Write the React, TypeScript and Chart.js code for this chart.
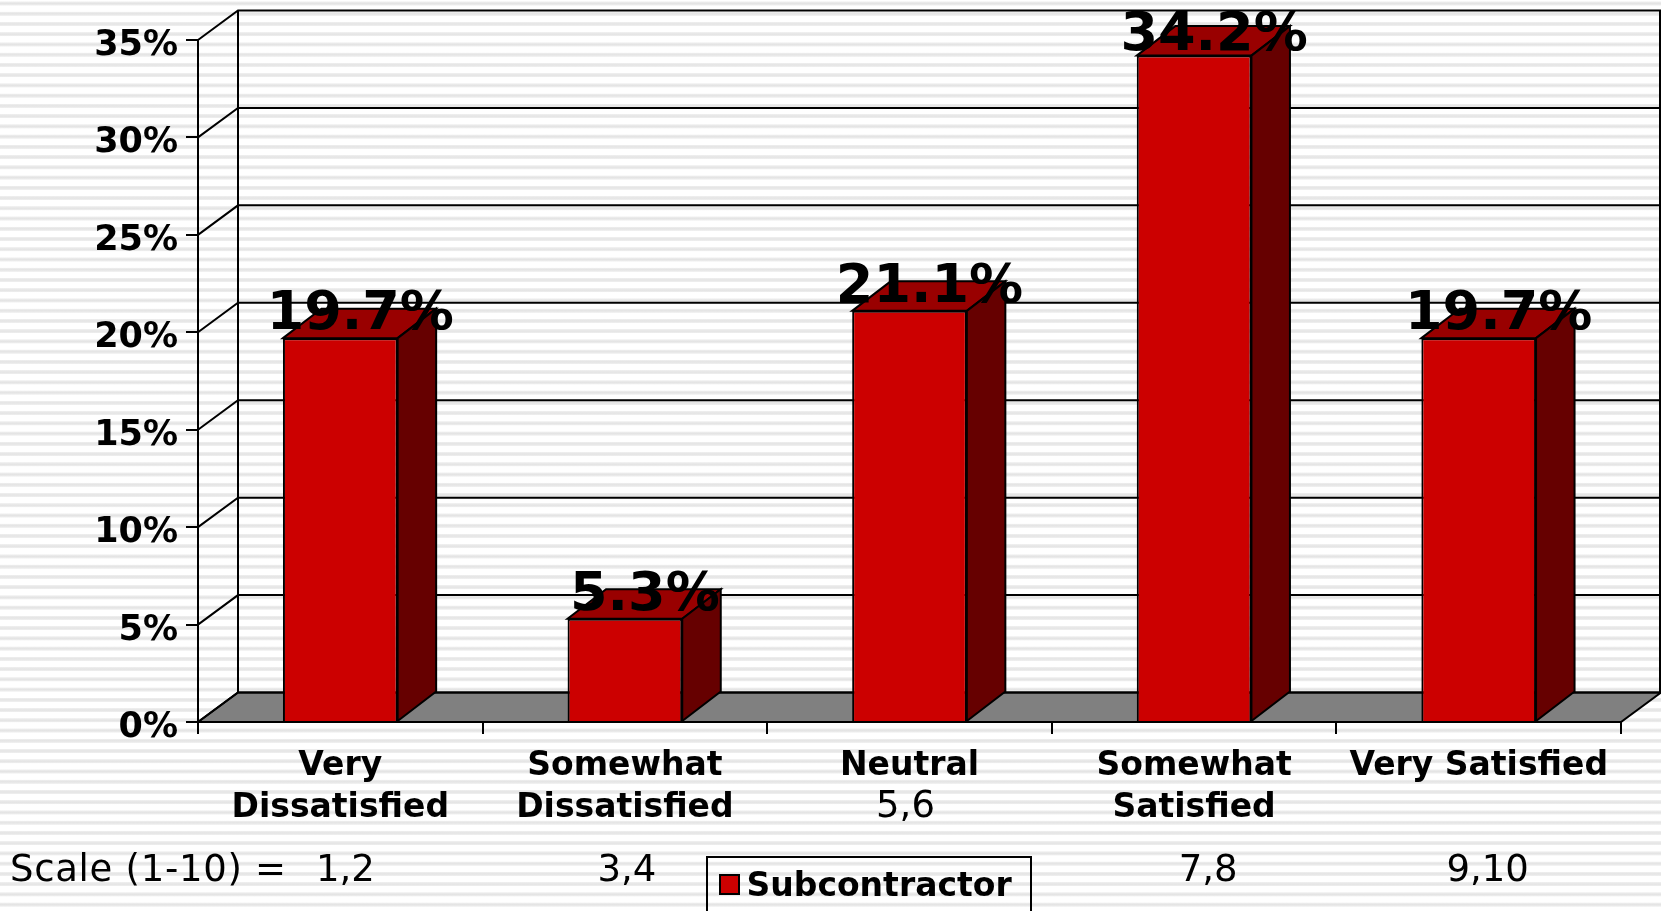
import React, { useEffect, useRef } from "react";
import { Chart, registerables } from "chart.js";

Chart.register(...registerables);

const categories = [["Very", "Dissatisfied"], ["Somewhat", "Dissatisfied"], ["Neutral", ""], ["Somewhat", "Satisfied"], ["Very Satisfied", ""]];
const subcontractor = [19.7, 5.3, 21.1, 34.2, 19.7];
const seriesName = "Subcontractor";
const scaleCodes = ["1,2", "3,4", "5,6", "7,8", "9,10"];
const scalePrefix = "Scale (1-10) =";

const FONT = '"DejaVu Sans", Verdana, sans-serif';
const DEPTH_X = 40;
const DEPTH_Y = 29.5;
const BAR_DEPTH_X = 38.5;
const BAR_COLOR = "#cc0000";

const scene = {
  id: "scene",
  beforeDatasetsDraw(chart: any) {
    const { ctx, chartArea: a, scales } = chart;
    const y = scales.y;
    const b = a.bottom;
    ctx.save();
    ctx.strokeStyle = "#000";
    ctx.lineCap = "butt";
    // floor
    ctx.beginPath();
    ctx.moveTo(a.left, b);
    ctx.lineTo(a.left + DEPTH_X, b - DEPTH_Y);
    ctx.lineTo(a.right + DEPTH_X, b - DEPTH_Y);
    ctx.lineTo(a.right, b);
    ctx.closePath();
    ctx.fillStyle = "#808080";
    ctx.fill();
    ctx.lineWidth = 2;
    ctx.stroke();
    // wall grid and side wall
    for (const v of y.ticks.map((t: any) => t.value)) {
      const p = y.getPixelForValue(v);
      ctx.beginPath();
      ctx.moveTo(a.left, p);
      ctx.lineTo(a.left + DEPTH_X, p - DEPTH_Y);
      ctx.lineTo(a.right + DEPTH_X, p - DEPTH_Y);
      ctx.stroke();
    }
    ctx.beginPath();
    ctx.moveTo(a.left + DEPTH_X, a.top - DEPTH_Y);
    ctx.lineTo(a.left + DEPTH_X, b - DEPTH_Y);
    ctx.moveTo(a.right + DEPTH_X - 1, a.top - DEPTH_Y);
    ctx.lineTo(a.right + DEPTH_X - 1, b - DEPTH_Y);
    ctx.stroke();
    // 3D faces of bars
    const meta = chart.getDatasetMeta(0);
    meta.data.forEach((bar: any) => {
      const { x, y: top, base, width } = bar.getProps(["x", "y", "base", "width"], true);
      const l = x - width / 2;
      const r = x + width / 2;
      ctx.lineWidth = 2;
      ctx.beginPath();
      ctx.moveTo(l, top);
      ctx.lineTo(l + BAR_DEPTH_X, top - DEPTH_Y);
      ctx.lineTo(r + BAR_DEPTH_X, top - DEPTH_Y);
      ctx.lineTo(r, top);
      ctx.closePath();
      ctx.fillStyle = "#990000";
      ctx.fill();
      ctx.stroke();
      ctx.beginPath();
      ctx.moveTo(r, top);
      ctx.lineTo(r + BAR_DEPTH_X, top - DEPTH_Y);
      ctx.lineTo(r + BAR_DEPTH_X, base - DEPTH_Y);
      ctx.lineTo(r, base);
      ctx.closePath();
      ctx.fillStyle = "#660000";
      ctx.fill();
      ctx.stroke();
    });
    ctx.restore();
  },
  afterDatasetsDraw(chart: any) {
    const { ctx } = chart;
    const meta = chart.getDatasetMeta(0);
    ctx.save();
    ctx.fillStyle = "#000";
    ctx.textAlign = "center";
    ctx.textBaseline = "alphabetic";
    ctx.font = `bold 54px ${FONT}`;
    meta.data.forEach((bar: any, i: number) => {
      const { x, y } = bar.getProps(["x", "y"], true);
      ctx.fillText(subcontractor[i].toFixed(1) + "%", x + 20, y - 9 + [0, 0, 0, 3, 0][i]);
    });
    // scale annotations beneath the categories
    ctx.font = `37px ${FONT}`;
    const xs = chart.scales.x;
    scaleCodes.forEach((code, i) => {
      const cx = xs.getPixelForTick(i) + [5, 2, -4, 14, 9][i];
      const cy = i === 2 ? 817 : 881;
      ctx.fillText(code, cx, cy);
    });
    ctx.textAlign = "left";
    (ctx as any).letterSpacing = "0.7px";
    ctx.fillText(scalePrefix, 10, 881);
    (ctx as any).letterSpacing = "0px";
    // legend frame and swatch
    ctx.strokeStyle = "#000";
    ctx.lineWidth = 2;
    ctx.strokeRect(707, 857, 324, 70);
    ctx.fillStyle = BAR_COLOR;
    ctx.fillRect(720, 875, 19, 19);
    ctx.strokeRect(720, 875, 19, 19);
    ctx.restore();
  },
  afterLayout(chart: any) {
    const lg = chart.legend;
    lg.left = 704;
    lg.top = 865;
    lg.right = 1031;
    lg.bottom = 911;
    if (lg.legendHitBoxes) lg.legendHitBoxes.forEach((h: any) => { h.left = 704; h.top = 869; });
  },
};

export default function App() {
  const ref = useRef<HTMLCanvasElement>(null);
  useEffect(() => {
    document.body.style.margin = "0";
    document.body.style.overflow = "hidden";
    const chart = new Chart(ref.current!, {
      type: "bar",
      data: {
        labels: categories,
        datasets: [{
          label: seriesName,
          data: subcontractor,
          backgroundColor: BAR_COLOR,
          borderColor: "#000",
          borderWidth: 2,
          barPercentage: 0.403,
          categoryPercentage: 1,
        }],
      },
      plugins: [scene],
      options: {
        responsive: false,
        animation: false,
        layout: { padding: { top: 40, right: 40, bottom: 0, left: 0 } },
        plugins: {
          title: { display: false },
          tooltip: { enabled: false },
          legend: {
            display: true,
            position: "chartArea",
            align: "start",
            labels: {
              color: "#000",
              font: { family: FONT, weight: "bold", size: 33 },
              boxWidth: 20,
              boxHeight: 20,
              padding: 6,
              generateLabels: (c: any) => Chart.defaults.plugins.legend.labels.generateLabels(c).map((it: any) => ({
                ...it, fillStyle: "rgba(0,0,0,0)", strokeStyle: "rgba(0,0,0,0)", lineWidth: 0,
              })),
            },
          },
        },
        scales: {
          x: {
            afterFit(s: any) { s.height = 189; },
            grid: { display: true, drawOnChartArea: false, color: "#000", lineWidth: 2, tickLength: 12, offset: true },
            border: { display: true, color: "#000", width: 2 },
            ticks: {
              color: "#000",
              maxRotation: 0,
              autoSkip: false,
              padding: 11,
              font: { family: FONT, weight: "bold", size: 33, lineHeight: 1.285 },
            },
          },
          y: {
            min: 0,
            max: 35,
            afterFit(s: any) { s.width = 198; },
            grid: { display: true, drawOnChartArea: false, color: "#000", lineWidth: 2, tickLength: 12 },
            border: { display: true, color: "#000", width: 2 },
            ticks: {
              stepSize: 5,
              color: "#000",
              padding: 8,
              callback: (v: any) => ["", v + "%"],
              font: { family: FONT, weight: "bold", size: 35, lineHeight: 0.34 },
            },
          },
        },
      },
    } as any);
    return () => chart.destroy();
  }, []);
  return (
    <div style={{
      position: "fixed", left: 0, top: 0, width: 1661, height: 911, overflow: "hidden",
      background: "repeating-linear-gradient(to bottom, #fff 0px, #fff 1.2px, #eee 1.8px, #e4e4e4 3.5px, #eee 5.2px, #fff 5.8px, #fff 10.24px)",
    }}>
      <canvas ref={ref} width={1661} height={911} style={{ display: "block" }} />
    </div>
  );
}
